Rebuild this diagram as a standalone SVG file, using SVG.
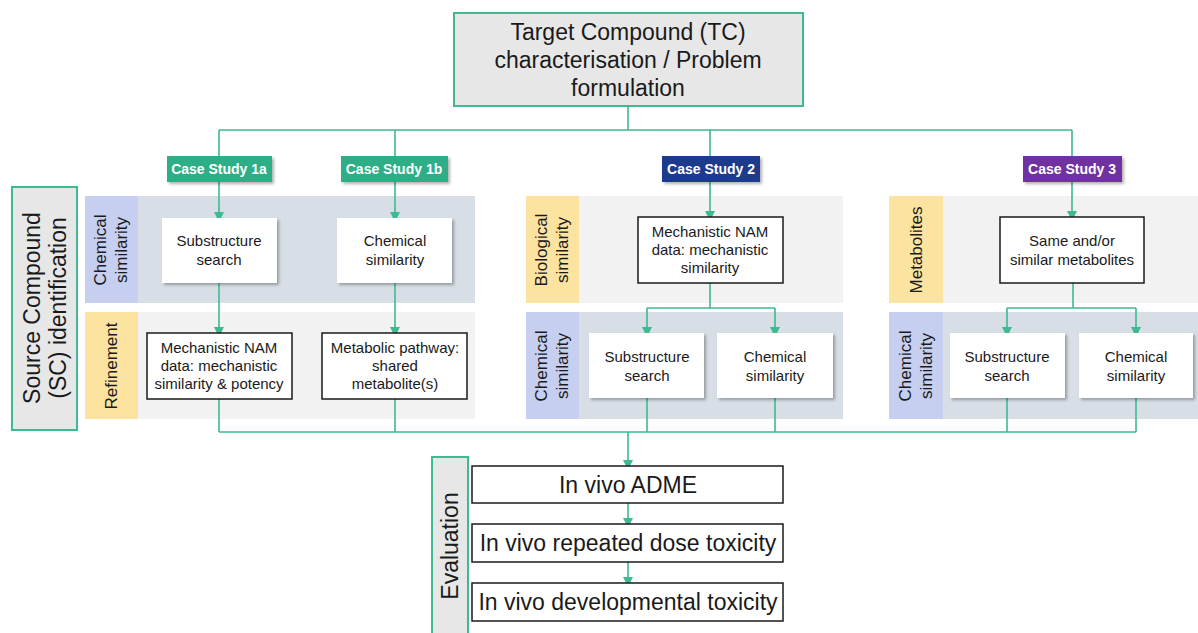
<svg xmlns="http://www.w3.org/2000/svg" width="1198" height="633" viewBox="0 0 1198 633">
<style>
text{font-family:"Liberation Sans",Arial,sans-serif;fill:#1a1a1a;text-anchor:middle}
.ln{stroke:#3dba8f;stroke-width:1.6;fill:none}
.gb{fill:#e7e7e7;stroke:#3dba8f;stroke-width:2}
.cs{font-weight:bold;font-size:14px;fill:#fff}
.wb{fill:#fff}
.bb{fill:#fff;stroke:#1a1a1a;stroke-width:1.5}
.nt{font-size:15px}
.rl{font-size:17px}
.ev{font-size:23px}
.bandG{fill:#f2f2f2}
.bandB{fill:#d7dee6}
.lblB{fill:#c6cff0}
.lblO{fill:#fde3a0}
</style>
<defs>
<marker id="ah" markerWidth="10" markerHeight="10" refX="5" refY="5" orient="auto" markerUnits="userSpaceOnUse">
<path d="M0,0 L10,5 L0,10 z" fill="#3dba8f"/>
</marker>
<filter id="sh" x="-10%" y="-10%" width="125%" height="130%">
<feDropShadow dx="2" dy="2" stdDeviation="1.5" flood-color="#000" flood-opacity="0.3"/>
</filter>
</defs>

<!-- bands -->
<g id="bands">
<rect x="85" y="196" width="390" height="107" class="bandB"/>
<rect x="85" y="196" width="53" height="107" class="lblB"/>
<rect x="85" y="312" width="390" height="107" class="bandG"/>
<rect x="85" y="312" width="53" height="107" class="lblO"/>
<rect x="526" y="196" width="317" height="107" class="bandG"/>
<rect x="526" y="196" width="53" height="107" class="lblO"/>
<rect x="526" y="312" width="317" height="107" class="bandB"/>
<rect x="526" y="312" width="53" height="107" class="lblB"/>
<rect x="889" y="196" width="309" height="107" class="bandG"/>
<rect x="889" y="196" width="54" height="107" class="lblO"/>
<rect x="889" y="312" width="309" height="107" class="bandB"/>
<rect x="889" y="312" width="54" height="107" class="lblB"/>
<text class="rl" transform="translate(111,250) rotate(-90)"><tspan x="0" y="-5">Chemical</tspan><tspan x="0" y="16">similarity</tspan></text>
<text class="rl" transform="translate(111,366) rotate(-90)"><tspan x="0" y="6">Refinement</tspan></text>
<text class="rl" transform="translate(552,250) rotate(-90)"><tspan x="0" y="-5">Biological</tspan><tspan x="0" y="16">similarity</tspan></text>
<text class="rl" transform="translate(552,366) rotate(-90)"><tspan x="0" y="-5">Chemical</tspan><tspan x="0" y="16">similarity</tspan></text>
<text class="rl" transform="translate(916,250) rotate(-90)"><tspan x="0" y="6">Metabolites</tspan></text>
<text class="rl" transform="translate(916,366) rotate(-90)"><tspan x="0" y="-5">Chemical</tspan><tspan x="0" y="16">similarity</tspan></text>
</g>

<!-- connectors -->
<g id="connectors">
<path class="ln" d="M628,106 V130 M219,130 H1072"/>
<path class="ln" d="M219,130 V156 M395,130 V156 M710,130 V156 M1072,130 V156"/>
<path class="ln" d="M219,182 V217" marker-end="url(#ah)"/>
<path class="ln" d="M395,182 V217" marker-end="url(#ah)"/>
<path class="ln" d="M710,182 V216" marker-end="url(#ah)"/>
<path class="ln" d="M1072,182 V216" marker-end="url(#ah)"/>
<path class="ln" d="M219,283 V332" marker-end="url(#ah)"/>
<path class="ln" d="M395,283 V332" marker-end="url(#ah)"/>
<path class="ln" d="M710,283 V308 M647,308 H775 M1073,283 V308 M1007,308 H1136"/>
<path class="ln" d="M647,308 V332" marker-end="url(#ah)"/>
<path class="ln" d="M775,308 V332" marker-end="url(#ah)"/>
<path class="ln" d="M1007,308 V332" marker-end="url(#ah)"/>
<path class="ln" d="M1136,308 V332" marker-end="url(#ah)"/>
<path class="ln" d="M219,399 V432 M395,399 V432 M647,398 V432 M775,398 V432 M1007,398 V432 M1136,398 V432 M219,432 H1136"/>
<path class="ln" d="M628,432 V465" marker-end="url(#ah)"/>
<path class="ln" d="M628,503 V523" marker-end="url(#ah)"/>
<path class="ln" d="M628,562 V582" marker-end="url(#ah)"/>
</g>

<g id="target">
<rect x="454" y="13" width="349" height="93" class="gb"/>
<text font-size="23"><tspan x="628" y="40">Target Compound (TC)</tspan><tspan x="628" y="68">characterisation / Problem</tspan><tspan x="628" y="96">formulation</tspan></text>
</g>

<g id="source">
<rect x="12" y="187" width="65" height="243" class="gb"/>
<text font-size="23" transform="translate(44,308) rotate(-90)"><tspan x="0" y="-4">Source Compound</tspan><tspan x="0" y="22">(SC) identification</tspan></text>
</g>

<g id="cs1a"><rect x="167" y="156" width="105" height="26" fill="#2fae86" filter="url(#sh)"/><text class="cs" x="219" y="174">Case Study 1a</text></g>
<g id="cs1b"><rect x="341" y="156" width="107" height="26" fill="#2fae86" filter="url(#sh)"/><text class="cs" x="394" y="174">Case Study 1b</text></g>
<g id="cs2"><rect x="662" y="156" width="98" height="26" fill="#1f3a8c" filter="url(#sh)"/><text class="cs" x="711" y="174">Case Study 2</text></g>
<g id="cs3"><rect x="1023" y="156" width="99" height="26" fill="#7030a0" filter="url(#sh)"/><text class="cs" x="1072" y="174">Case Study 3</text></g>

<g id="n1a1"><rect x="162" y="218" width="115" height="65" class="wb" filter="url(#sh)"/><text class="nt"><tspan x="219" y="246">Substructure</tspan><tspan x="219" y="265">search</tspan></text></g>
<g id="n1b1"><rect x="337" y="218" width="115" height="65" class="wb" filter="url(#sh)"/><text class="nt"><tspan x="395" y="246">Chemical</tspan><tspan x="395" y="265">similarity</tspan></text></g>
<g id="n1a2"><rect x="147" y="333" width="145" height="66" class="bb"/><text class="nt"><tspan x="219" y="353">Mechanistic NAM</tspan><tspan x="219" y="371">data: mechanistic</tspan><tspan x="219" y="389">similarity &amp; potency</tspan></text></g>
<g id="n1b2"><rect x="322" y="333" width="145" height="66" class="bb"/><text class="nt"><tspan x="395" y="353">Metabolic pathway:</tspan><tspan x="395" y="371">shared</tspan><tspan x="395" y="389">metabolite(s)</tspan></text></g>

<g id="n2a"><rect x="638" y="217" width="145" height="66" class="bb"/><text class="nt"><tspan x="710" y="237">Mechanistic NAM</tspan><tspan x="710" y="255">data: mechanistic</tspan><tspan x="710" y="273">similarity</tspan></text></g>
<g id="n2b"><rect x="589" y="333" width="115" height="65" class="wb" filter="url(#sh)"/><text class="nt"><tspan x="647" y="362">Substructure</tspan><tspan x="647" y="381">search</tspan></text></g>
<g id="n2c"><rect x="717" y="333" width="116" height="65" class="wb" filter="url(#sh)"/><text class="nt"><tspan x="775" y="362">Chemical</tspan><tspan x="775" y="381">similarity</tspan></text></g>

<g id="n3a"><rect x="1000" y="217" width="144" height="66" class="bb"/><text class="nt"><tspan x="1072" y="246">Same and/or</tspan><tspan x="1072" y="265">similar metabolites</tspan></text></g>
<g id="n3b"><rect x="950" y="333" width="115" height="65" class="wb" filter="url(#sh)"/><text class="nt"><tspan x="1007" y="362">Substructure</tspan><tspan x="1007" y="381">search</tspan></text></g>
<g id="n3c"><rect x="1079" y="333" width="114" height="65" class="wb" filter="url(#sh)"/><text class="nt"><tspan x="1136" y="362">Chemical</tspan><tspan x="1136" y="381">similarity</tspan></text></g>

<g id="evaluation">
<rect x="432" y="457" width="36" height="190" class="gb"/>
<text class="ev" transform="translate(458,546) rotate(-90)" x="0" y="0">Evaluation</text>
</g>
<g id="adme"><rect x="472" y="466" width="311" height="37" class="bb"/><text class="ev" x="628" y="493">In vivo ADME</text></g>
<g id="rdt"><rect x="472" y="524" width="311" height="38" class="bb"/><text class="ev" x="628" y="551">In vivo repeated dose toxicity</text></g>
<g id="dev"><rect x="472" y="583" width="311" height="38" class="bb"/><text class="ev" x="628" y="610">In vivo developmental toxicity</text></g>
</svg>
